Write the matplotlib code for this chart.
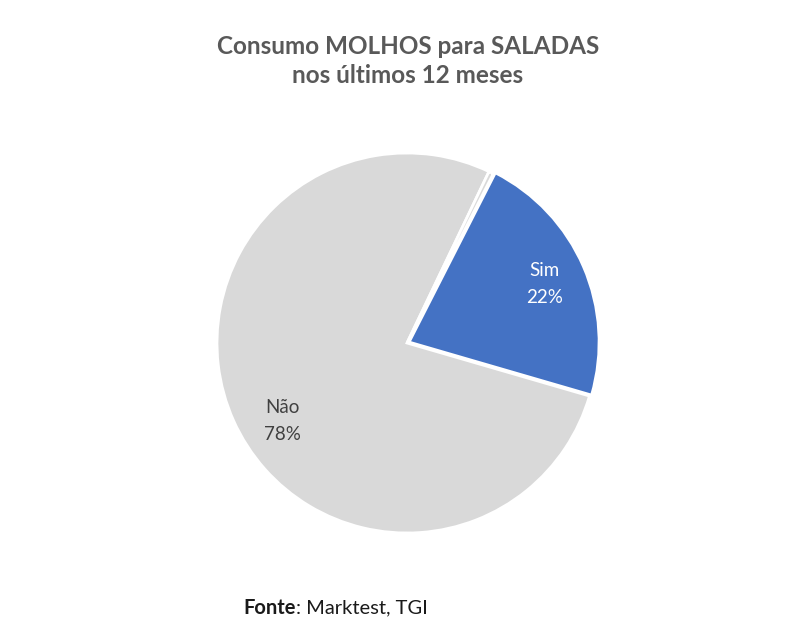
import matplotlib
matplotlib.use('Agg')
from matplotlib import pyplot as plt

# dados
categorias = ['Sim', 'Não', '']
valores = [22, 77.6, 0.4]
rotulos = ['Sim\n22%', 'Não\n78%']
cores = ['#4472C4', '#D9D9D9', '#D9D9D9']

plt.rcParams['font.family'] = ['Lato', 'DejaVu Sans']

fig = plt.figure(figsize=(8, 6.4), dpi=100)
ax = fig.add_axes([0.27125, 1 - 533 / 640, 0.475, 380 / 640])

wedges, _ = ax.pie(valores, colors=cores, startangle=63, counterclock=False,
                   explode=[0.012, 0, 0],
                   wedgeprops={'edgecolor': 'white', 'linewidth': 2})
ax.set_xlim(-1, 1)
ax.set_ylim(-1, 1)
ax.set_aspect('equal')
ax.axis('off')

# rótulos das fatias
ax.text(0.726, 0.31, rotulos[0], color='white', fontsize=13.5,
        ha='center', va='center', linespacing=1.7)
ax.text(-0.653, -0.41, rotulos[1], color='#404040', fontsize=13.5,
        ha='center', va='center', linespacing=1.7)

fig.text(0.51, 1 - 61 / 640, 'Consumo MOLHOS para SALADAS\nnos últimos 12 meses',
         ha='center', va='center', fontsize=17.5, fontweight='bold',
         color='#595959', linespacing=1.3)

# fonte: parte em negrito seguida do resto
t1 = fig.text(243 / 800, 1 - 608 / 640, 'Fonte', ha='left', va='center',
              fontsize=14.5, fontweight='bold', color='#1a1a1a')
fig.canvas.draw()
bb = t1.get_window_extent().transformed(fig.transFigure.inverted())
fig.text(bb.x1, 1 - 608 / 640, ': Marktest, TGI', ha='left', va='center',
         fontsize=14.5, color='#1a1a1a')

plt.savefig('out.png')
